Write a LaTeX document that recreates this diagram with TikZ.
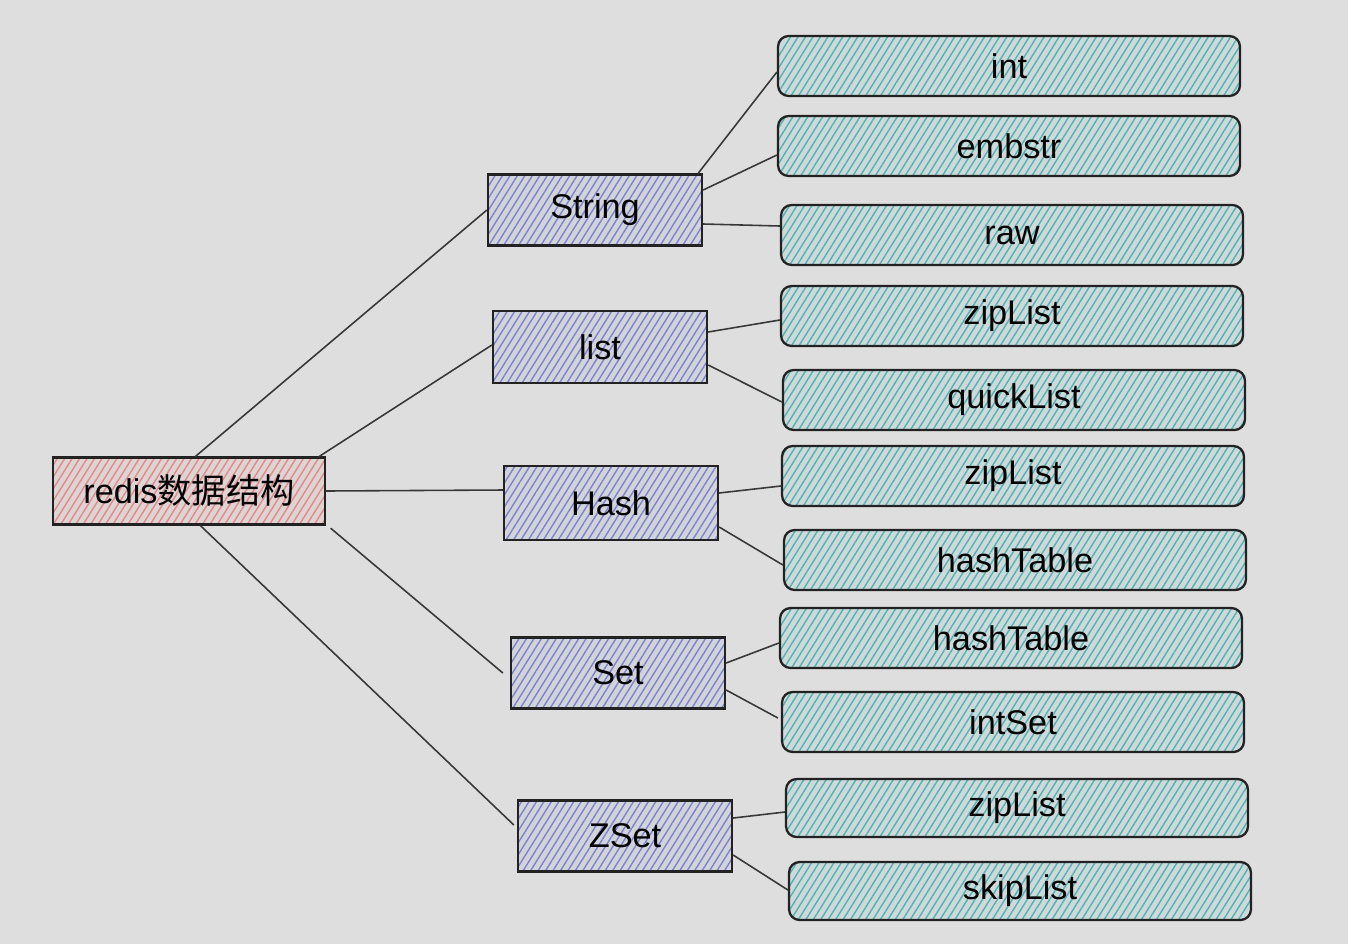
\documentclass[tikz,border=0pt]{standalone}
\usepackage{fontspec}
\setmainfont{Liberation Sans}
\newfontfamily\cjk{Noto Sans CJK SC}
\usetikzlibrary{patterns.meta}
\definecolor{bg}{HTML}{DEDEDE}
\definecolor{rootc}{HTML}{E08A8A}
\definecolor{midc}{HTML}{7C86C6}
\definecolor{leafc}{HTML}{55B2B4}
\definecolor{ink}{HTML}{222222}
\tikzset{
  base/.style={draw=ink, line width=1.3pt, inner sep=0pt, font=\fontsize{19.5}{23}\selectfont, text=black},
  rootbox/.style={base, minimum width=5.44cm, minimum height=1.34cm,
    preaction={fill=rootc!12!bg},
    pattern={Lines[angle=58,distance=3.6pt,line width=0.8pt]}, pattern color=rootc},
  midbox/.style={base, minimum width=4.28cm, minimum height=1.42cm,
    preaction={fill=midc!12!bg},
    pattern={Lines[angle=58,distance=3.6pt,line width=0.8pt]}, pattern color=midc},
  leafbox/.style={base, rounded corners=6pt, minimum width=9.24cm, minimum height=1.2cm,
    preaction={fill=leafc!12!bg},
    pattern={Lines[angle=58,distance=3.6pt,line width=0.8pt]}, pattern color=leafc},
  link/.style={draw=ink!90, line width=0.9pt}
}
\begin{document}
\begin{tikzpicture}[x=0.02cm,y=-0.02cm]
\useasboundingbox[fill=bg] (0,0) rectangle (1348,944);

\node[rootbox] (root) at (189,491) {redis{\cjk 数据结构}};

\node[midbox] (str) at (595,210) {String};
\node[midbox, minimum height=1.44cm] (lst) at (600,347) {list};
\node[midbox, minimum height=1.48cm] (hsh) at (611,503) {Hash};
\node[midbox] (set) at (618,673) {Set};
\node[midbox] (zset) at (625,836) {ZSet};

\node[leafbox] (l1) at (1009,66) {int};
\node[leafbox] (l2) at (1009,146) {embstr};
\node[leafbox] (l3) at (1012,235) {raw};
\node[leafbox] (l4) at (1012,316) {zipList};
\node[leafbox] (l5) at (1014,400) {quickList};
\node[leafbox] (l6) at (1013,476) {zipList};
\node[leafbox] (l7) at (1015,560) {hashTable};
\node[leafbox] (l8) at (1011,638) {hashTable};
\node[leafbox] (l9) at (1013,722) {intSet};
\node[leafbox, minimum height=1.16cm] (l10) at (1017,808) {zipList};
\node[leafbox, minimum height=1.16cm] (l11) at (1020,891) {skipList};

% root to middle
\draw[link] ([xshift=0.12cm]root.north) -- (str.west);
\draw[link] ([xshift=-0.14cm]root.north east) -- ([yshift=0.04cm]lst.west);
\draw[link] (root.east) -- ([yshift=0.26cm]hsh.west);
\draw[link] ([xshift=0.1cm,yshift=-0.06cm]root.south east) -- ([xshift=-0.14cm]set.west);
\draw[link] ([xshift=0.22cm]root.south) -- ([xshift=-0.06cm,yshift=0.22cm]zset.west);

% middle to leaves
\draw[link] ([xshift=-0.1cm]str.north east) -- ([yshift=-0.12cm]l1.west);
\draw[link] ([yshift=0.4cm]str.east) -- ([yshift=-0.18cm]l2.west);
\draw[link] ([yshift=-0.28cm]str.east) -- ([yshift=0.18cm]l3.west);
\draw[link] ([yshift=0.3cm]lst.east) -- ([yshift=-0.08cm]l4.west);
\draw[link] ([yshift=-0.36cm]lst.east) -- ([yshift=-0.04cm]l5.west);
\draw[link] ([yshift=0.2cm]hsh.east) -- ([yshift=-0.2cm]l6.west);
\draw[link] ([yshift=-0.48cm]hsh.east) -- ([yshift=-0.1cm]l7.west);
\draw[link] ([yshift=0.2cm]set.east) -- ([yshift=-0.1cm]l8.west);
\draw[link] ([yshift=-0.34cm]set.east) -- ([xshift=-0.06cm,yshift=0.08cm]l9.west);
\draw[link] ([yshift=0.36cm]zset.east) -- ([yshift=-0.08cm]l10.west);
\draw[link] ([yshift=-0.38cm]zset.east) -- ([yshift=0.02cm]l11.west);
\end{tikzpicture}
\end{document}
